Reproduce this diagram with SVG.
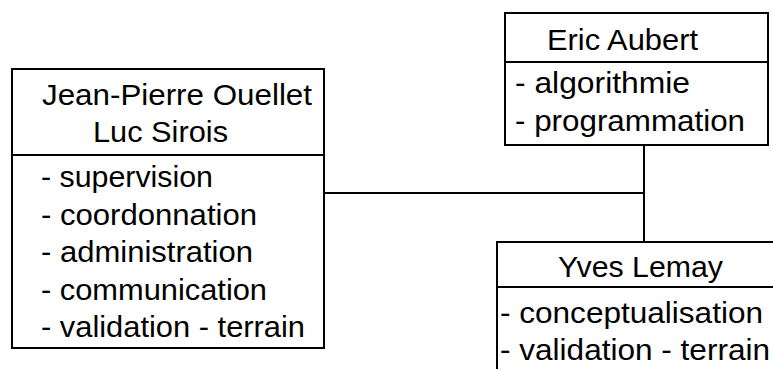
<svg xmlns="http://www.w3.org/2000/svg" width="773" height="369" viewBox="0 0 773 369">
<style>
.box{fill:#fff;stroke:#000;stroke-width:2}
.ln{stroke:#000;stroke-width:2;fill:none}
text{font-family:"Liberation Sans",Arial,sans-serif;font-size:30px;fill:#000}
</style>
<rect width="773" height="369" fill="#fff"/>
<g id="connectors">
<path class="ln" d="M324 193H644"/>
<path class="ln" d="M644 145V242"/>
</g>
<g id="node-jp">
<rect class="box" x="12" y="69" width="312" height="279"/>
<line class="ln" x1="12" y1="155" x2="324" y2="155"/>
<text x="42" y="105" textLength="270" lengthAdjust="spacingAndGlyphs">Jean-Pierre Ouellet</text>
<text x="93" y="142" textLength="135" lengthAdjust="spacingAndGlyphs">Luc Sirois</text>
<text x="41" y="187" textLength="172" lengthAdjust="spacingAndGlyphs">- supervision</text>
<text x="41" y="225" textLength="216" lengthAdjust="spacingAndGlyphs">- coordonnation</text>
<text x="41" y="262" textLength="212" lengthAdjust="spacingAndGlyphs">- administration</text>
<text x="41" y="300" textLength="226" lengthAdjust="spacingAndGlyphs">- communication</text>
<text x="41" y="337" textLength="264" lengthAdjust="spacingAndGlyphs">- validation - terrain</text>
</g>
<g id="node-eric">
<rect class="box" x="505" y="13" width="263" height="132"/>
<line class="ln" x1="505" y1="62" x2="768" y2="62"/>
<text x="547" y="50" textLength="151" lengthAdjust="spacingAndGlyphs">Eric Aubert</text>
<text x="515" y="93" textLength="175" lengthAdjust="spacingAndGlyphs">- algorithmie</text>
<text x="515" y="131" textLength="230" lengthAdjust="spacingAndGlyphs">- programmation</text>
</g>
<g id="node-yves">
<rect class="box" x="497" y="242" width="300" height="160"/>
<line class="ln" x1="497" y1="287" x2="797" y2="287"/>
<text x="558" y="277" textLength="165" lengthAdjust="spacingAndGlyphs">Yves Lemay</text>
<text x="500" y="323" textLength="263" lengthAdjust="spacingAndGlyphs">- conceptualisation</text>
<text x="500" y="360" textLength="270" lengthAdjust="spacingAndGlyphs">- validation - terrain</text>
</g>
</svg>
